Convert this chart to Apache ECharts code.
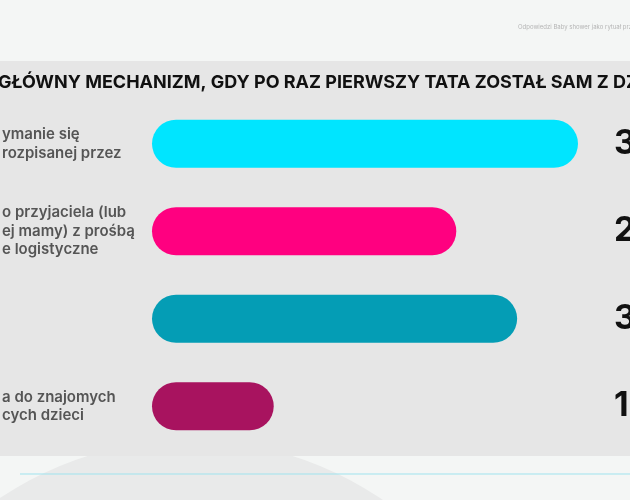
<!DOCTYPE html>
<html>
<head>
<meta charset="utf-8">
<script src="https://cdn.jsdelivr.net/npm/echarts@6/dist/echarts.min.js"></script>
<style>html,body{margin:0;padding:0;background:#f4f6f5}#chart{width:630px;height:500px}</style>
</head>
<body>
<div id="chart"></div>
<script>
const categories = [
  "ymanie się\nrozpisanej przez",
  "o przyjaciela (lub\nej mamy) z prośbą\ne logistyczne",
  "",
  "a do znajomych\ncych dzieci",
];
const values = [35, 25, 30, 10];
const valueLabels = ["35%", "25%", "30%", "10%"];
const colors = ["#00e5ff", "#ff0080", "#049db5", "#a8135f"];
const title = "GŁÓWNY MECHANIZM, GDY PO RAZ PIERWSZY TATA ZOSTAŁ SAM Z DZIECKIEM";
const source = "Odpowiedzi Baby shower jako rytuał przejścia";

const chart = echarts.init(document.getElementById("chart"));
chart.setOption({
  backgroundColor: "#f4f6f5",
  animation: false,
  graphic: [
    { type: "circle", shape: { cx: 190, cy: 780, r: 340 }, style: { fill: "#e9eaea" }, z: -20 },
    { type: "rect", shape: { x: 0, y: 61, width: 630, height: 395 }, style: { fill: "#e6e6e6" }, z: -10 },
    { type: "line", shape: { x1: 20, y1: 474, x2: 630, y2: 474 }, style: { stroke: "#9fe3ee", lineWidth: 1 }, z: -5 },
    { type: "text", left: 518, top: 24, style: { text: source, fill: "#b5b5b5", font: "6px Inter" } },
    { type: "text", left: -2, top: 74, style: { text: title, fill: "#111", font: "bold 18px Inter" } },
  ],
  grid: { left: 152, right: 52, top: 100, bottom: 50, outerBoundsMode: "none", containLabel: false },
  xAxis: { type: "value", min: 0, max: 35, show: false },
  yAxis: [
    {
      type: "category", inverse: true, data: categories,
      axisLine: { show: false }, axisTick: { show: false },
      axisLabel: { align: "left", margin: 150, color: "#555", fontFamily: "Inter", fontWeight: 600, fontSize: 15, lineHeight: 18.5 },
    },
    {
      type: "category", inverse: true, position: "right", data: valueLabels,
      axisLine: { show: false }, axisTick: { show: false },
      axisLabel: { align: "left", margin: 36, color: "#111", fontFamily: "Inter", fontWeight: "bold", fontSize: 34 },
    },
  ],
  series: [{
    type: "bar", barWidth: 48,
    data: values.map((v, i) => ({ value: v, itemStyle: { color: colors[i], borderRadius: 24 } })),
  }],
});
</script>
</body>
</html>
